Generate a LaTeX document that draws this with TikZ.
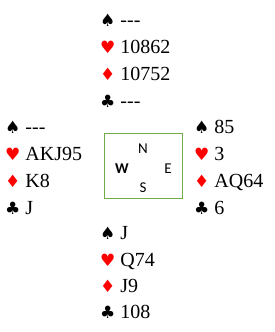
\documentclass[tikz,border=0pt]{standalone}
\usepackage{fontspec}
\setmainfont{Liberation Serif}[Ligatures=NoCommon]
\newfontfamily\suitfont{DejaVu Sans}
\newfontfamily\compassfont{Carlito}
\usepackage{xcolor}
\usepackage{tikz}
\usetikzlibrary{positioning}
\definecolor{boxgreen}{HTML}{70AD47}
\newcommand{\spd}{{\suitfont\fontsize{17}{17}\selectfont\color{black}♠}}
\newcommand{\hrt}{{\suitfont\fontsize{17}{17}\selectfont\color{red}♥}}
\newcommand{\dmd}{{\suitfont\fontsize{17}{17}\selectfont\color{red}♦}}
\newcommand{\clb}{{\suitfont\fontsize{17}{17}\selectfont\color{black}♣}}
\newcommand{\void}{{-}{-}{-}}
\tikzset{
  holding/.style={anchor=base west, inner sep=0pt, font=\fontsize{20}{20}\selectfont},
  compass/.style={rectangle, draw=boxgreen, line width=1pt, minimum width=78pt, minimum height=65pt},
  direction/.style={inner sep=0pt, font=\compassfont\fontsize{15}{15}\selectfont}
}

\begin{document}
\begin{tikzpicture}[x=1pt, y=-1pt]
    \useasboundingbox (0,0) rectangle (274,332);

    % north
    \node (n1) [holding] at (100,26) {\spd\ \void};
    \node (n2) [holding] at (100,53) {\hrt\ 10862};
    \node (n3) [holding] at (100,80) {\dmd\ 10752};
    \node (n4) [holding] at (100,107) {\clb\ \void};

    % west
    \node (w1) [holding] at (5,133) {\spd\ \void};
    \node (w2) [holding] at (5,160) {\hrt\ AKJ95};
    \node (w3) [holding] at (5,187) {\dmd\ K8};
    \node (w4) [holding] at (5,214) {\clb\ J};

    % east
    \node (e1) [holding] at (194,133) {\spd\ 85};
    \node (e2) [holding] at (194,160) {\hrt\ 3};
    \node (e3) [holding] at (194,187) {\dmd\ AQ64};
    \node (e4) [holding] at (194,214) {\clb\ 6};

    % south
    \node (s1) [holding] at (100,239) {\spd\ J};
    \node (s2) [holding] at (100,266) {\hrt\ Q74};
    \node (s3) [holding] at (100,292) {\dmd\ J9};
    \node (s4) [holding] at (100,318) {\clb\ 108};

    % table
    \node (table) [compass] at (143,165.5) {};
    \node (north) [direction] at (143,149) {N};
    \node (west) [direction, font=\compassfont\bfseries\fontsize{15}{15}\selectfont] at (122,169) {W};
    \node (east) [direction] at (168,169) {E};
    \node (south) [direction] at (143,188) {S};
\end{tikzpicture}
\end{document}
